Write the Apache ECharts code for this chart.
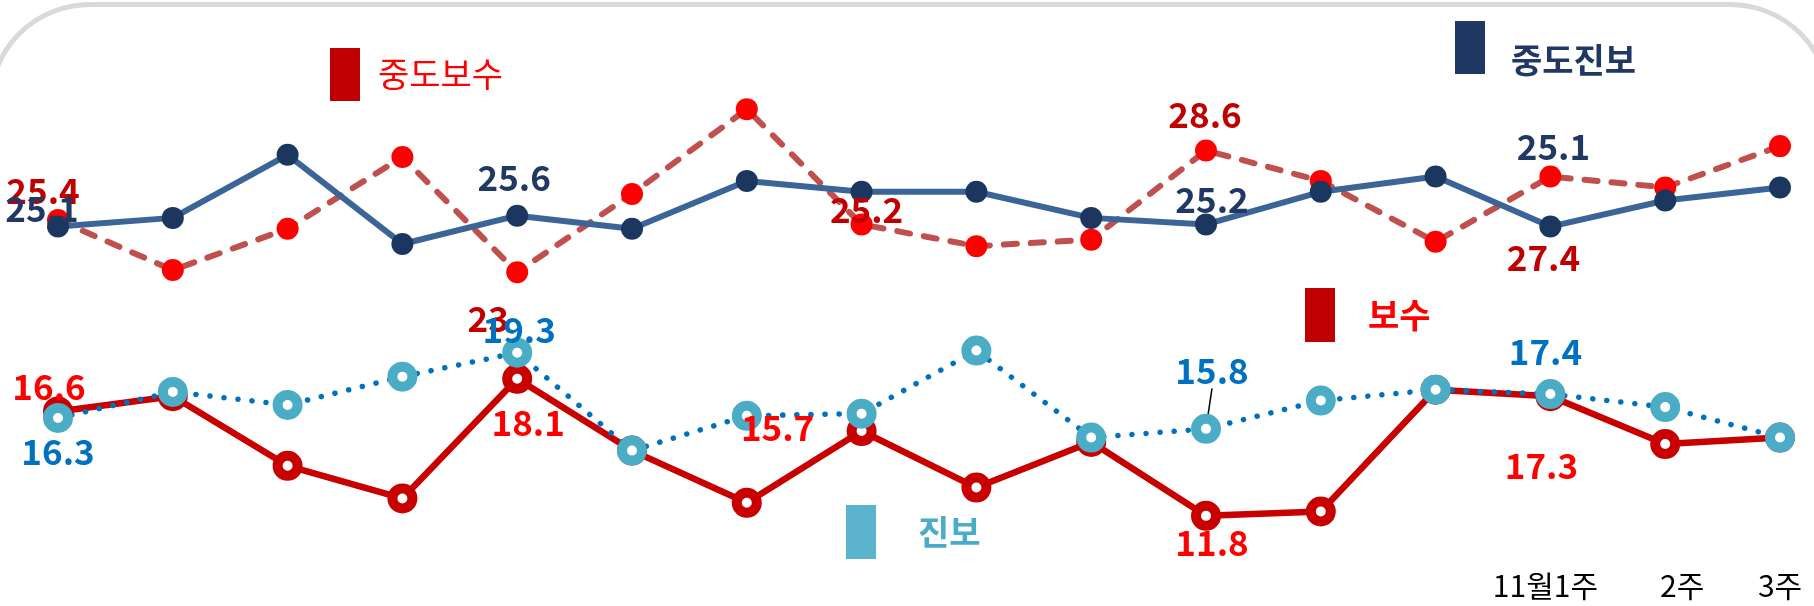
<!DOCTYPE html>
<html>
<head>
<meta charset="utf-8">
<script src="https://cdn.jsdelivr.net/npm/echarts@6/dist/echarts.min.js"></script>
<style>
  html, body { margin: 0; padding: 0; background: #fff; }
  #chart { width: 1814px; height: 606px; }
</style>
</head>
<body>
<div id="chart"></div>
<script>
// 주차 (앞쪽 주차는 라벨 없음)
var weeks = ['', '', '', '', '', '', '', '', '', '', '', '', '', '11월1주', '2주', '3주']

var jungdoBosu = [25.4, 23.1, 25.0, 28.3, 23, 26.6, 30.5, 25.2, 24.2, 24.5, 28.6, 27.2, 24.4, 27.4, 26.9, 28.8]
var jungdoJinbo = [25.1, 25.5, 28.4, 24.3, 25.6, 25.0, 27.2, 26.7, 26.7, 25.5, 25.2, 26.7, 27.4, 25.1, 26.3, 26.9]
var bosu = [16.6, 17.3, 14.1, 12.6, 18.1, 14.8, 12.4, 15.7, 13.1, 15.2, 11.8, 12.0, 17.6, 17.3, 15.1, 15.4]
var jinbo = [16.3, 17.5, 16.9, 18.2, 19.3, 14.8, 16.4, 16.5, 19.4, 15.4, 15.8, 17.1, 17.6, 17.4, 16.8, 15.4]

// 라벨이 붙는 점과 그 위치 (점 중심 기준 px)
var bosuMidSpots = { 0: [-15, -29], 4: [-29, 46], 7: [5, -15], 10: [-1, -36], 13: [-7, 81] }
var jinboMidSpots = { 0: [-16, -18], 4: [-3, -38], 10: [6, -25], 13: [3, -80] }
var bosuSpots = { 0: [-9, -25], 4: [11, 44], 7: [-84, -3], 10: [6, 27], 13: [-9, 69] }
var jinboSpots = { 0: [0, 34], 4: [2, -23], 10: [6, -58], 13: [-5, -42] }
// x축 라벨 좌우 보정 (px, +면 오른쪽)
var tickNudge = { 13: -5, 14: 17 }

var FONT = 'Noto Sans CJK KR'

function withLabels(values, spots, color, lineIdx) {
  return values.map(function (v, i) {
    if (!spots[i]) return v
    var item = { value: v, label: { show: true, position: 'inside', offset: spots[i], color: color } }
    if (i === lineIdx) {
      item.labelLine = { show: true, lineStyle: { color: '#000', width: 1.5 } }
    }
    return item
  })
}

var categories = weeks.map(function (w, i) {
  var n = tickNudge[i]
  if (!n) return w
  return { value: w, textStyle: { padding: n > 0 ? [0, 0, 0, 2 * n] : [0, -2 * n, 0, 0] } }
})

var valueLabel = {
  show: false,
  fontSize: 35,
  fontWeight: 'bold',
  fontFamily: FONT
}

var chart = echarts.init(document.getElementById('chart'))

chart.setOption({
  animation: false,
  backgroundColor: '#fff',
  textStyle: { fontFamily: FONT },
  graphic: [{
    type: 'rect',
    silent: true,
    z: -1,
    shape: { x: -10, y: 4.5, width: 1840, height: 700, r: 100 },
    style: { fill: 'none', stroke: '#D9D9D9', lineWidth: 5 }
  }],
  // 범례 (그림 안에 흩어져 있음)
  legend: [{
    selectedMode: false, padding: 0, left: 330, top: 48,
    icon: 'rect', itemWidth: 30, itemHeight: 53,
    data: [{ name: '중도보수', itemStyle: { color: '#C00000', borderWidth: 0 } }],
    textStyle: { color: '#FF0000', fontSize: 34, fontFamily: FONT, padding: [0, 0, 0, 13] }
  }, {
    selectedMode: false, padding: 0, left: 1455, top: 18,
    icon: 'rect', itemWidth: 30, itemHeight: 53,
    formatter: '\n{name}',
    data: [{ name: '중도진보', itemStyle: { color: '#1F3864', borderWidth: 0 } }],
    textStyle: { color: '#1F3864', fontSize: 34, lineHeight: 25, fontWeight: 'bold', fontFamily: FONT, padding: [0, 0, 0, 21] }
  }, {
    selectedMode: false, padding: 0, left: 1305, top: 288,
    icon: 'rect', itemWidth: 30, itemHeight: 54,
    data: [{ name: '보수', itemStyle: { color: '#C00000', borderWidth: 0 } }],
    textStyle: { color: '#FF0000', fontSize: 34, fontWeight: 'bold', fontFamily: FONT, padding: [0, 0, 0, 28] }
  }, {
    selectedMode: false, padding: 0, left: 846, top: 505,
    icon: 'rect', itemWidth: 30, itemHeight: 54,
    data: [{ name: '진보', itemStyle: { color: '#5BB3CD', borderWidth: 0 } }],
    textStyle: { color: '#4BACC6', fontSize: 34, fontWeight: 'bold', fontFamily: FONT, padding: [0, 0, 0, 37] }
  }],
  grid: {
    left: 58,
    right: 34,
    top: 33,
    bottom: 51
  },
  xAxis: {
    type: 'category',
    boundaryGap: false,
    data: categories,
    axisLine: { show: false },
    axisTick: { show: false },
    splitLine: { show: false },
    axisLabel: {
      interval: 0,
      margin: 16,
      color: '#000',
      fontSize: 30,
      fontFamily: FONT
    }
  },
  yAxis: {
    type: 'value',
    min: 10,
    max: 34,
    show: false,
    splitLine: { show: false }
  },
  series: [{
    name: '중도보수',
    type: 'line',
    symbol: 'circle',
    symbolSize: 22,
    itemStyle: { color: '#FF0000' },
    lineStyle: { color: '#C0504D', width: 6, type: [13, 14], cap: 'round' },
    label: valueLabel,
    data: withLabels(jungdoBosu, bosuMidSpots, '#C00000')
  }, {
    name: '중도진보',
    type: 'line',
    symbol: 'circle',
    symbolSize: 22,
    itemStyle: { color: '#1B365F' },
    lineStyle: { color: '#3B6597', width: 6 },
    label: valueLabel,
    data: withLabels(jungdoJinbo, jinboMidSpots, '#1F3864')
  }, {
    name: '보수',
    type: 'line',
    symbol: 'circle',
    symbolSize: 20,
    itemStyle: { color: '#fff', borderColor: '#C80000', borderWidth: 10 },
    lineStyle: { color: '#C80000', width: 6.5 },
    label: valueLabel,
    data: withLabels(bosu, bosuSpots, '#FF0000')
  }, {
    name: '진보',
    type: 'line',
    symbol: 'circle',
    symbolSize: 20,
    itemStyle: { color: '#fff', borderColor: '#4BACC6', borderWidth: 10 },
    lineStyle: { color: '#0070C0', width: 5.5, type: [0.1, 14], cap: 'round' },
    label: valueLabel,
    data: withLabels(jinbo, jinboSpots, '#0070C0', 10)
  }]
})
</script>
</body>
</html>
